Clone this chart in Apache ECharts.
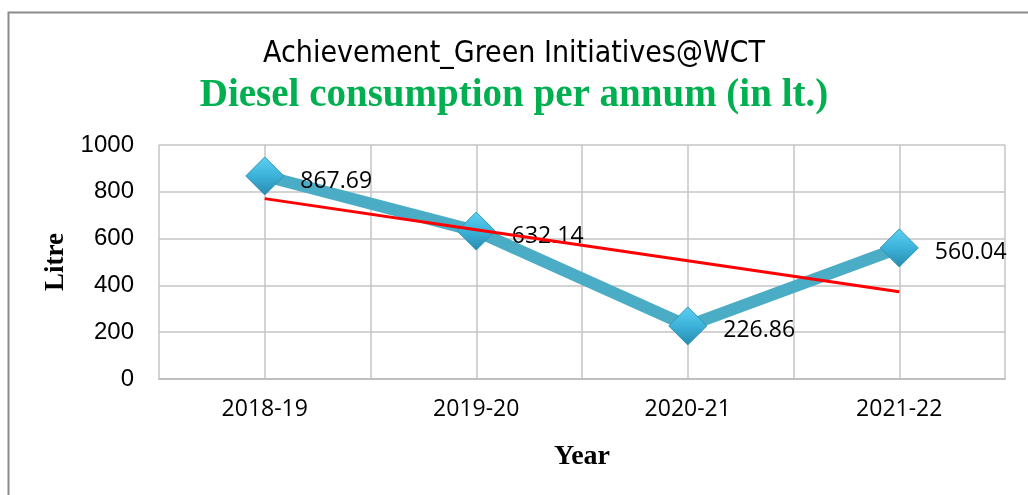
<!DOCTYPE html>
<html>
<head>
<meta charset="utf-8">
<script src="https://cdn.jsdelivr.net/npm/echarts@6/dist/echarts.min.js"></script>
<style>
  html, body { margin: 0; padding: 0; background: #fff; }
  #chart { width: 1028px; height: 495px; }
</style>
</head>
<body>
<div id="chart"></div>
<script>
// data
var years = ['2018-19', '2019-20', '2020-21', '2021-22'];
var diesel = [867.69, 632.14, 226.86, 560.04];
var trend = [770.9, 638.1, 505.3, 372.5];   // linear trend line as drawn
var yTicks = { min: 0, max: 1000, interval: 200 };

// half-band categories, only used to draw the vertical grid every half year
var halfBands = [];
years.forEach(function (y) { halfBands.push(y + 'a', y + 'b'); });

var chart = echarts.init(document.getElementById('chart'));
var option = {
  backgroundColor: '#fff',
  animation: false,
  graphic: [{
    type: 'rect',
    left: 6, top: 10,
    shape: { width: 1040, height: 500 },
    style: { fill: 'none', stroke: '#8c8c8c', lineWidth: 2 },
    silent: true
  }],
  title: [
    {
      text: 'Achievement_Green Initiatives@WCT',
      left: 'center', top: 34,
      textStyle: { fontFamily: '"DejaVu Sans Condensed", "Liberation Sans Narrow", sans-serif', fontSize: 30, fontWeight: 'normal', color: '#000' }
    },
    {
      text: 'Diesel consumption per annum (in lt.)',
      left: 'center', top: 71,
      textStyle: { fontFamily: '"Liberation Serif", serif', fontSize: 39, fontWeight: 'bold', color: '#00B050' }
    }
  ],
  grid: { left: 159, right: 23, top: 145, bottom: 116 },
  xAxis: [
    {
      type: 'category',
      data: years,
      boundaryGap: true,
      axisLine: { lineStyle: { color: '#bfbfbf', width: 2 } },
      axisTick: { show: false },
      splitLine: { show: false },
      axisLabel: { color: '#000', fontFamily: '"Open Sans", sans-serif', fontSize: 23, margin: 19 },
      name: 'Year',
      nameLocation: 'middle',
      nameGap: 64,
      nameTextStyle: { fontFamily: '"Liberation Serif", serif', fontSize: 28, fontWeight: 'bold', color: '#000' }
    },
    {
      type: 'category',
      data: halfBands,
      boundaryGap: true,
      position: 'bottom',
      axisLine: { show: false },
      axisTick: { show: false },
      axisLabel: { show: false },
      splitLine: { show: true, lineStyle: { color: '#c4c4c4', width: 1.5 } }
    }
  ],
  yAxis: {
    type: 'value',
    min: yTicks.min, max: yTicks.max, interval: yTicks.interval,
    axisLine: { show: false },
    axisTick: { show: false },
    axisLabel: {
      color: '#000', fontFamily: '"Liberation Sans", Arial, sans-serif', fontSize: 24, margin: 25,
      formatter: function (v) { return String(v); }
    },
    splitLine: { lineStyle: { color: '#c4c4c4', width: 1.5 } },
    name: 'Litre',
    nameLocation: 'middle',
    nameGap: 86,
    nameTextStyle: { fontFamily: '"Liberation Serif", serif', fontSize: 27, fontWeight: 'bold', color: '#000' }
  },
  series: [
    {
      name: 'Diesel',
      type: 'line',
      data: diesel,
      z: 2,
      symbol: 'diamond',
      symbolSize: 38,
      lineStyle: { color: '#4BACC6', width: 12 },
      itemStyle: {
        color: new echarts.graphic.LinearGradient(0, 0, 0, 1, [
          { offset: 0, color: '#5fd0f2' },
          { offset: 0.5, color: '#3cb2da' },
          { offset: 1, color: '#2a8aab' }
        ]),
        borderColor: '#2f95b8',
        borderWidth: 1
      },
      label: {
        show: true,
        position: 'right',
        distance: 16,
        offset: [0, 5],
        color: '#000',
        fontFamily: '"Open Sans", sans-serif',
        fontSize: 23
      }
    },
    {
      name: 'Trend',
      type: 'line',
      data: trend,
      z: 3,
      symbol: 'none',
      lineStyle: { color: '#ff0000', width: 3 }
    }
  ]
};
chart.setOption(option);
</script>
</body>
</html>
